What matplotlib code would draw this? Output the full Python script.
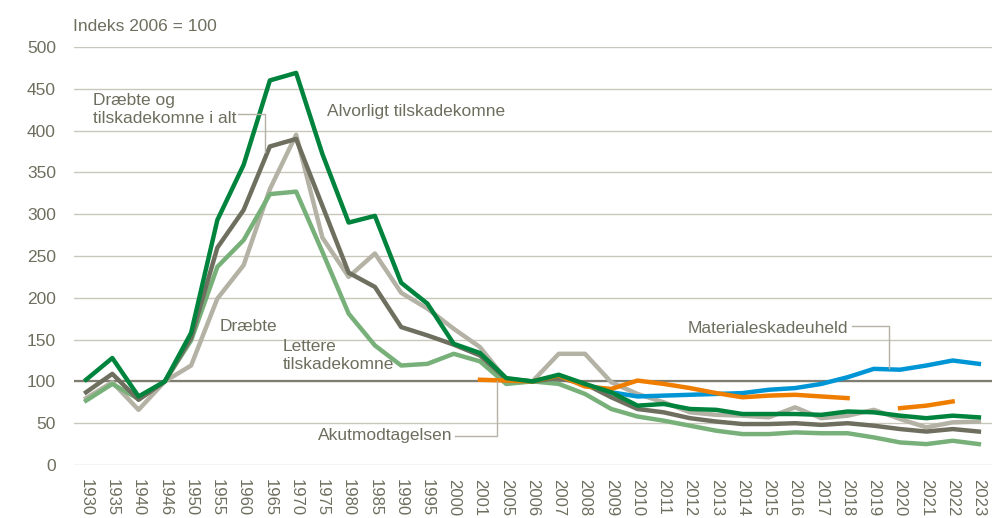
import numpy as np
import matplotlib.pyplot as plt

plt.rcParams['font.family'] = ['Liberation Sans', 'DejaVu Sans']

years = ['1930', '1935', '1940', '1946', '1950', '1955', '1960', '1965', '1970', '1975',
         '1980', '1985', '1990', '1995', '2000', '2001', '2005', '2006', '2007', '2008',
         '2009', '2010', '2011', '2012', '2013', '2014', '2015', '2016', '2017', '2018',
         '2019', '2020', '2021', '2022', '2023']

nan = np.nan
# Index 2006 = 100
alvorligt = [102, 128, 82, 100, 158, 293, 359, 460, 469, 372,
             290, 298, 218, 193, 145, 134, 104, 100, 108, 97,
             87, 71, 73, 67, 66, 61, 61, 61, 60, 64,
             63, 59, 56, 59, 57]
i_alt = [87, 109, 78, 100, 152, 260, 305, 381, 390, 310,
         230, 213, 165, 155, 144, 131, 103, 100, 104, 97,
         81, 67, 63, 56, 52, 49, 49, 50, 48, 50,
         47, 43, 40, 43, 40]
draebte = [80, 99, 66, 100, 119, 199, 239, 330, 395, 272,
           225, 253, 206, 187, 163, 141, 102, 100, 133, 133,
           99, 85, 75, 63, 60, 59, 57, 69, 56, 59,
           66, 55, 45, 51, 52]
lettere = [77, 97, 79, 100, 149, 237, 269, 324, 327, 255,
           181, 143, 119, 121, 133, 124, 97, 100, 97, 85,
           67, 58, 53, 47, 41, 37, 37, 39, 38, 38,
           33, 27, 25, 29, 25]
akut = [nan, nan, nan, nan, nan, nan, nan, nan, nan, nan,
        nan, nan, nan, nan, nan, 102, 101, 100, 107, 94,
        91, 101, 97, 92, 86, 81, 83, 84, 82, 80,
        nan, 68, 71, 76, nan]
materiale = [nan, nan, nan, nan, nan, nan, nan, nan, nan, nan,
             nan, nan, nan, nan, nan, nan, nan, nan, nan, nan,
             87, 82, 83, 84, 85, 86, 90, 92, 97, 105,
             115, 114, 119, 125, 121]

txt = '#6e6e5f'
x = np.arange(len(years))

fig = plt.figure(figsize=(9.97, 5.18), dpi=100)
ax = fig.add_axes([0.0742, 0.1023, 0.9208, 0.807])

for v in range(0, 501, 50):
    ax.axhline(v, color='#c9c7bb', lw=1, zorder=1)
ax.axhline(100, color='#7f7d6f', lw=1.6, zorder=2)

lw = 3.2
ax.plot(x, draebte, color='#b4b2a5', lw=lw, zorder=3)
ax.plot(x, lettere, color='#78b07a', lw=lw, zorder=4)
ax.plot(x, i_alt, color='#6f6f5f', lw=lw, zorder=5)
ax.plot(x, materiale, color='#0096d6', lw=lw, zorder=6)
ax.plot(x, akut, color='#ef7d00', lw=lw, zorder=7)
ax.plot(x, alvorligt, color='#00843d', lw=lw, zorder=8)

# labels with leader lines
lc = '#b4b2a5'
ax.text(0.27, 425, 'Dræbte og\ntilskadekomne i alt', color=txt, fontsize=12.5, va='center', ha='left')
ax.plot([5.79, 6.81, 6.81], [420, 420, 374], color=lc, lw=1, zorder=9)
ax.text(9.18, 423, 'Alvorligt tilskadekomne', color=txt, fontsize=12.5, va='center', ha='left')
ax.text(5.1, 166, 'Dræbte', color=txt, fontsize=12.5, va='center', ha='left')
ax.text(7.5, 131, 'Lettere\ntilskadekomne', color=txt, fontsize=12.5, va='center', ha='left')
ax.text(8.83, 35, 'Akutmodtagelsen', color=txt, fontsize=12.5, va='center', ha='left')
ax.plot([14.05, 15.65, 15.65], [35, 35, 100], color=lc, lw=1, zorder=9)
ax.text(22.92, 163, 'Materialeskadeuheld', color=txt, fontsize=12.5, va='center', ha='left')
ax.plot([29.17, 30.58, 30.58], [166, 166, 116], color=lc, lw=1, zorder=9)

ax.set_xlim(-0.46, 34.5)
ax.set_ylim(0, 500)
ax.set_yticks(range(0, 501, 50))
ax.set_xticks(x)
ax.set_xticklabels(years, rotation=270, fontsize=12)
ax.tick_params(axis='y', length=0, pad=13, labelsize=12.5, labelcolor=txt)
ax.tick_params(axis='x', length=0, pad=10, labelcolor=txt)
for s in ax.spines.values():
    s.set_visible(False)

fig.text(73 / 997, 1 - 31 / 518, 'Indeks 2006 = 100', color=txt, fontsize=12.5, va='baseline', ha='left')

fig.savefig('out.png', dpi=100)
